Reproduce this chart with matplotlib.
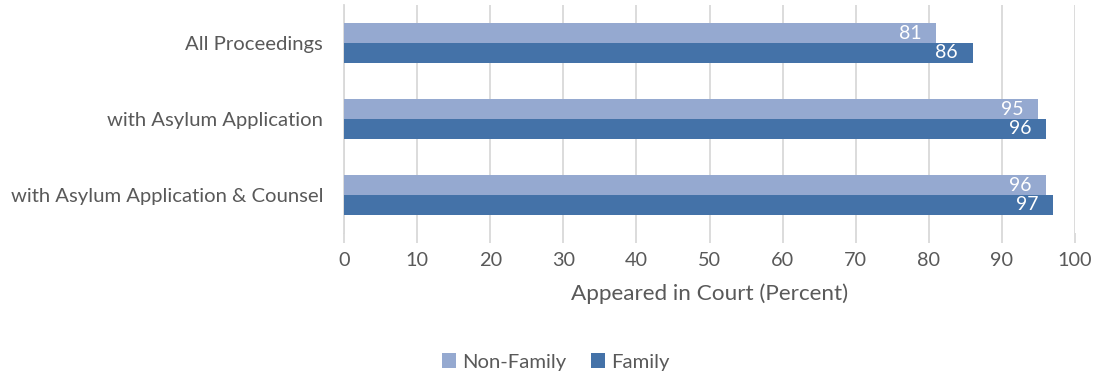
import matplotlib
matplotlib.use("Agg")
import matplotlib.pyplot as plt
import numpy as np

categories = ["All Proceedings", "with Asylum Application", "with Asylum Application & Counsel"]
non_family = [81, 95, 96]
family = [86, 96, 97]
series_names = ["Non-Family", "Family"]
xticks = [0, 10, 20, 30, 40, 50, 60, 70, 80, 90, 100]

plt.rcParams['font.family'] = ['Lato', 'DejaVu Sans']
txt = "#595959"
c_nf = "#95a9d0"
c_f = "#4472a8"

fig = plt.figure(figsize=(11.12, 3.88), dpi=100)
ax = fig.add_axes([344/1112, 1-233/388, (1075-344)/1112, 228/388])

y = np.arange(len(categories))
h = 0.263
b1 = ax.barh(y - h/2, non_family, height=h, color=c_nf, label=series_names[0], zorder=3)
b2 = ax.barh(y + h/2, family, height=h, color=c_f, label=series_names[1], zorder=3)
for bars, vals in ((b1, non_family), (b2, family)):
    for rect, v in zip(bars, vals):
        ax.text(rect.get_width() - 2.0, rect.get_y() + rect.get_height()/2, f"{v}",
                ha="right", va="center", color="white", fontsize=14, zorder=4)

ax.set_ylim(2.5, -0.5)
ax.set_xlim(0, 100)
ax.set_yticks(y)
ax.set_yticklabels(categories, fontsize=14.6, color=txt)
ax.set_xticks(xticks)
ax.set_xticklabels([str(t) for t in xticks], fontsize=14.3, color=txt)
ax.tick_params(axis="y", length=0, pad=15)
ax.tick_params(axis="x", length=7, color="#d9d9d9", width=1.3, pad=7, direction="out")
ax.grid(axis="x", color="#d9d9d9", linewidth=1.3, zorder=0)
for s in ["top", "right", "bottom"]:
    ax.spines[s].set_visible(False)
ax.spines["left"].set_color("#d9d9d9")
ax.spines["left"].set_linewidth(1.3)
ax.set_xlabel("Appeared in Court (Percent)", fontsize=16.2, color=txt, labelpad=10)

leg = fig.legend(handles=[b1, b2], labels=series_names, loc="center", bbox_to_anchor=(556/1112, 1-362/388),
                 ncol=2, frameon=False, fontsize=14.6, handlelength=0.7, handleheight=0.7,
                 handletextpad=0.3, columnspacing=1.2)
for t in leg.get_texts():
    t.set_color(txt)

fig.savefig("out.png", dpi=100)
